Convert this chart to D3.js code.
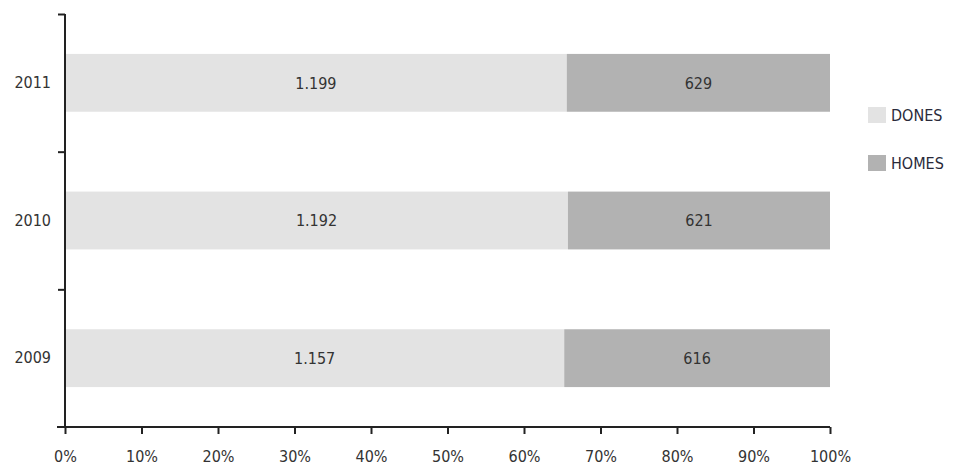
<!DOCTYPE html>
<html>
<head>
<meta charset="utf-8">
<script src="https://cdn.jsdelivr.net/npm/d3@7"></script>
<style>
  body { margin: 0; background: #fff; }
  text { font-family: "DejaVu Sans Condensed", "DejaVu Sans", sans-serif; }
</style>
</head>
<body>
<svg class="chart" width="958" height="468"></svg>
<script>
var years = ["2011", "2010", "2009"];
var dones = [1199, 1192, 1157];
var homes = [629, 621, 616];
var series = ["DONES", "HOMES"];
var xTicks = [0, 0.1, 0.2, 0.3, 0.4, 0.5, 0.6, 0.7, 0.8, 0.9, 1];

var colors = { DONES: "#e3e3e3", HOMES: "#b2b2b2" };

var data = years.map(function(y, i) {
  var total = dones[i] + homes[i];
  return { year: y, DONES: dones[i], HOMES: homes[i], total: total };
});

var svg = d3.select(".chart");
var plotLeft = 65, plotRight = 830, plotTop = 14, plotBottom = 427;

var x = d3.scaleLinear().domain([0, 1]).range([plotLeft, plotRight]);
var y = d3.scaleBand().domain(years).range([plotTop, plotBottom])
    .paddingInner(0.58).paddingOuter(0.29);
var yEdge = d3.scaleLinear().domain([0, years.length]).range([plotBottom, plotTop]);

var fmt = d3.formatLocale({ decimal: ",", thousands: ".", grouping: [3], currency: ["", "€"] }).format(",d");

// bars
var row = svg.selectAll(".row").data(data).enter().append("g").attr("class", "row");

series.forEach(function(s, si) {
  function x0(d) { return si === 0 ? 0 : d.DONES / d.total; }
  function x1(d) { return si === 0 ? d.DONES / d.total : 1; }
  row.append("rect")
    .attr("x", function(d) { return x(x0(d)); })
    .attr("y", function(d) { return y(d.year); })
    .attr("width", function(d) { return x(x1(d)) - x(x0(d)); })
    .attr("height", y.bandwidth())
    .attr("fill", colors[s]);
  row.append("text")
    .attr("x", function(d) { return (x(x0(d)) + x(x1(d))) / 2; })
    .attr("y", function(d) { return y(d.year) + y.bandwidth() / 2; })
    .attr("dy", "0.36em")
    .attr("text-anchor", "middle")
    .attr("font-size", 16)
    .attr("fill", "#333")
    .text(function(d) { return fmt(d[s]); });
});

// x axis
var xAxis = svg.append("g")
  .attr("transform", "translate(0," + plotBottom + ")")
  .call(d3.axisBottom(x).tickValues(xTicks).tickSize(7).tickPadding(17)
    .tickFormat(d3.format(".0%")));
xAxis.select(".domain").attr("d", "M" + (plotLeft - 8) + ",0H" + plotRight);
xAxis.selectAll("line").attr("stroke", "#222").attr("stroke-width", 2);
xAxis.selectAll("path").attr("stroke", "#222").attr("stroke-width", 2);
xAxis.selectAll("text").attr("font-size", 16).attr("fill", "#333")
  .style("font-family", "'DejaVu Sans Condensed', sans-serif");

// y axis: boundary ticks
var yAxis = svg.append("g")
  .attr("transform", "translate(" + plotLeft + ",0)")
  .call(d3.axisLeft(yEdge).tickValues([1, 2, 3]).tickSize(7).tickFormat(""));
yAxis.select(".domain").attr("d", "M0," + plotTop + "V" + plotBottom);
yAxis.selectAll("line").attr("stroke", "#222").attr("stroke-width", 2);
yAxis.selectAll("path").attr("stroke", "#222").attr("stroke-width", 2);

// y labels
var yLab = svg.append("g")
  .attr("transform", "translate(" + plotLeft + ",0)")
  .call(d3.axisLeft(y).tickSize(0).tickPadding(14));
yLab.select(".domain").remove();
yLab.selectAll("text").attr("font-size", 16).attr("fill", "#333")
  .style("font-family", "'DejaVu Sans Condensed', sans-serif");

// legend
var legend = svg.selectAll(".legend").data(series).enter().append("g")
  .attr("class", "legend")
  .attr("transform", function(d, i) { return "translate(868," + (107 + i * 48) + ")"; });
legend.append("rect").attr("width", 18).attr("height", 16)
  .attr("fill", function(d) { return colors[d]; });
legend.append("text").attr("x", 23).attr("y", 8).attr("dy", "0.36em")
  .attr("font-size", 16).attr("fill", "#2a2a3a")
  .text(function(d) { return d; });
</script>
</body>
</html>
